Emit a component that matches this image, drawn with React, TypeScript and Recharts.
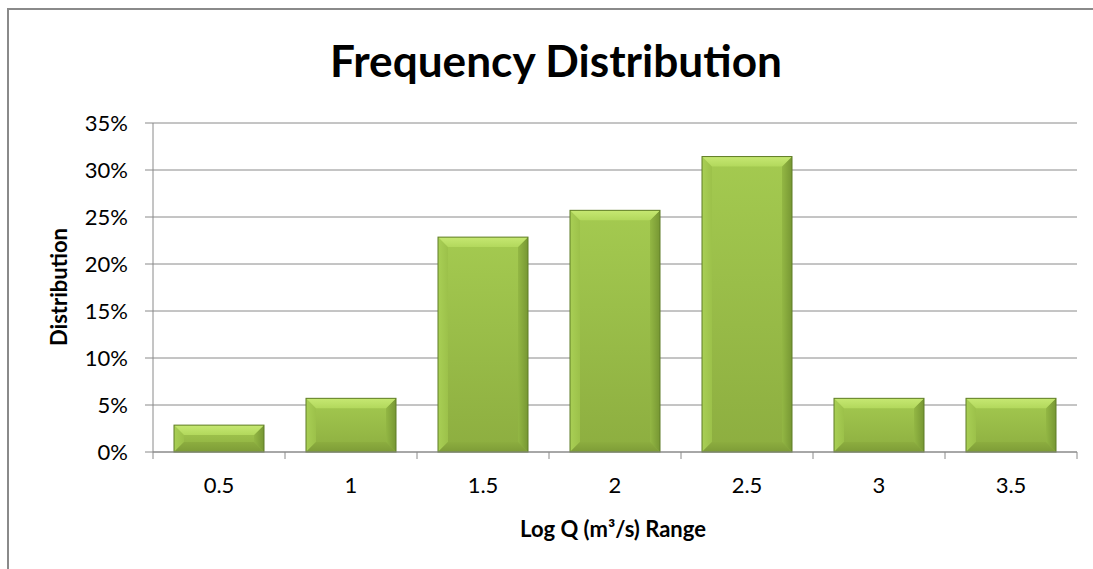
import React from "react";
import { BarChart, Bar, XAxis, YAxis, CartesianGrid } from "recharts";

// Log Q bins and share of observations in each bin (percent)
const bins = ["0.5", "1", "1.5", "2", "2.5", "3", "3.5"];
const shares = [2.86, 5.71, 22.86, 25.71, 31.43, 5.71, 5.71];
const yTicks = [0, 5, 10, 15, 20, 25, 30, 35];

const data = bins.map((bin, i) => ({ bin, share: shares[i] }));

const W = 1084;
const H = 559;
const MARGIN = { top: 113, right: 16, left: 64, bottom: 77 };
const Y_AXIS_W = 80;
const X_AXIS_H = 40;
const PLOT_LEFT = MARGIN.left + Y_AXIS_W;
const PLOT_W = W - PLOT_LEFT - MARGIN.right;
const BAND = PLOT_W / bins.length;

const FONT = "Lato, 'Open Sans', sans-serif";
const AXIS_GREY = "#8a8a8a";

// Bevelled green column
function BevelBar(props: any) {
  const { x, y, width: w, height: h, index } = props;
  if (!h || h <= 0) return null;
  const b = Math.min(10, h / 2, w / 2);
  const id = `bar${index}`;
  return (
    <g>
      <defs>
        <linearGradient id={`${id}body`} x1="0" y1="0" x2="0" y2="1">
          <stop offset="0%" stopColor="#a4ca50" />
          <stop offset="100%" stopColor="#8dae40" />
        </linearGradient>
        <linearGradient id={`${id}left`} x1="0" y1="0" x2="1" y2="0">
          <stop offset="0%" stopColor="#a9cf55" />
          <stop offset="100%" stopColor="#9cc14a" />
        </linearGradient>
        <linearGradient id={`${id}right`} x1="0" y1="0" x2="1" y2="0">
          <stop offset="0%" stopColor="#93b744" />
          <stop offset="100%" stopColor="#779733" />
        </linearGradient>
        <linearGradient id={`${id}bottom`} x1="0" y1="0" x2="0" y2="1">
          <stop offset="0%" stopColor="#8cad3f" />
          <stop offset="100%" stopColor="#7d9c37" />
        </linearGradient>
        <linearGradient id={`${id}top`} x1="0" y1="0" x2="0" y2="1">
          <stop offset="0%" stopColor="#c6e872" />
          <stop offset="100%" stopColor="#b2d85c" />
        </linearGradient>
      </defs>
      <rect x={x} y={y} width={w} height={h} fill={`url(#${id}body)`} />
      <polygon
        points={`${x},${y} ${x + b},${y + b} ${x + b},${y + h - b} ${x},${y + h}`}
        fill={`url(#${id}left)`}
      />
      <polygon
        points={`${x + w},${y} ${x + w},${y + h} ${x + w - b},${y + h - b} ${x + w - b},${y + b}`}
        fill={`url(#${id}right)`}
      />
      <polygon
        points={`${x},${y + h} ${x + w},${y + h} ${x + w - b},${y + h - b} ${x + b},${y + h - b}`}
        fill={`url(#${id}bottom)`}
      />
      <polygon
        points={`${x},${y} ${x + w},${y} ${x + w - b},${y + b} ${x + b},${y + b}`}
        fill={`url(#${id}top)`}
      />
      <rect
        x={x}
        y={y}
        width={w}
        height={h}
        fill="none"
        stroke="#5f7c26"
        strokeWidth={1}
      />
    </g>
  );
}

// Category label under each column, with tick marks on the bin boundaries
function BinTick(props: any) {
  const { x, y, payload, index } = props;
  const half = payload && payload.offset ? payload.offset : BAND / 2;
  return (
    <g>
      <line x1={x - half} y1={y} x2={x - half} y2={y + 7} stroke={AXIS_GREY} />
      {index === bins.length - 1 && (
        <line x1={x + half} y1={y} x2={x + half} y2={y + 7} stroke={AXIS_GREY} />
      )}
      <text
        x={x}
        y={y + 41}
        textAnchor="middle"
        fontFamily={FONT}
        fontSize={22}
        fill="#000"
      >
        {payload.value}
      </text>
    </g>
  );
}

export default function App() {
  return (
    <>
      <style>{"html, body { margin: 0; overflow: hidden; background: #fff; }"}</style>
      <div
        style={{
          position: "absolute",
          left: 7,
          top: 8,
          width: W,
          height: H,
          borderLeft: "2px solid #8a8a8a",
          borderTop: "2px solid #8a8a8a",
          background: "#fff",
          overflow: "hidden",
        }}
      >
        <BarChart width={W} height={H} data={data} margin={MARGIN}>
          <CartesianGrid vertical={false} stroke={AXIS_GREY} />
          <XAxis
            dataKey="bin"
            height={X_AXIS_H}
            axisLine={{ stroke: AXIS_GREY }}
            tickLine={false}
            tickSize={0}
            tickMargin={0}
            interval={0}
            tick={<BinTick />}
          />
          <YAxis
            width={Y_AXIS_W}
            domain={[0, 35]}
            ticks={yTicks}
            interval={0}
            tickFormatter={(v: number) => `${v}%`}
            axisLine={{ stroke: AXIS_GREY }}
            tickLine={{ stroke: AXIS_GREY }}
            tickSize={8}
            tickMargin={17}
            tick={{ fontFamily: FONT, fontSize: 22, fill: "#000" }}
          />
          <Bar
            dataKey="share"
            barSize={90}
            shape={<BevelBar />}
            isAnimationActive={false}
          />
        </BarChart>
        <svg
          width={W}
          height={H}
          style={{ position: "absolute", left: 0, top: 0, pointerEvents: "none" }}
        >
          <text
            x={547}
            y={67}
            textAnchor="middle"
            fontFamily={FONT}
            fontWeight={700}
            fontSize={44}
            textLength={452}
            lengthAdjust="spacingAndGlyphs"
            fill="#000"
          >
            Frequency Distribution
          </text>
          <text
            x={604}
            y={527}
            textAnchor="middle"
            fontFamily={FONT}
            fontWeight={700}
            fontSize={22}
            fill="#000"
          >
            Log Q (m³/s) Range
          </text>
          <text
            transform="translate(58 277) rotate(-90)"
            textAnchor="middle"
            fontFamily={FONT}
            fontWeight={700}
            fontSize={22}
            fill="#000"
          >
            Distribution
          </text>
        </svg>
      </div>
    </>
  );
}
